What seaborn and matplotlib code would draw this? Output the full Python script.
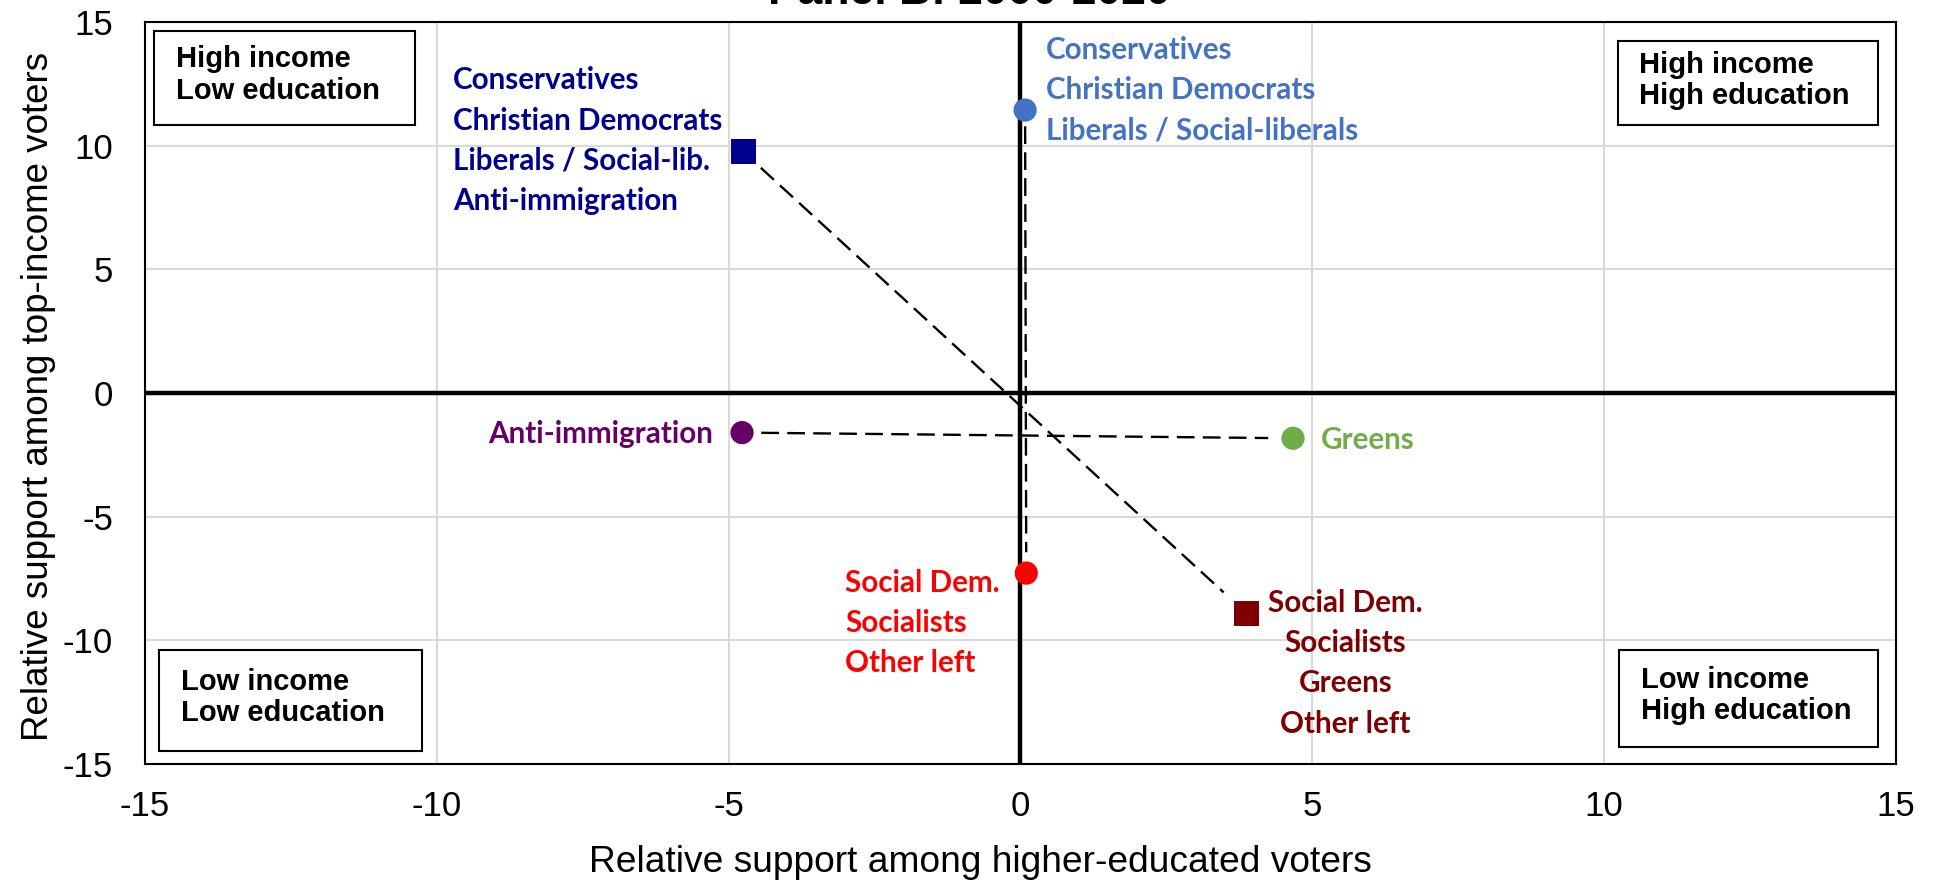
import numpy as np
import pandas as pd
import seaborn as sns
import matplotlib.pyplot as plt
from matplotlib.patches import Rectangle

# values (x: higher-educated, y: top-income)
groups = ['Right bloc', 'Conservatives', 'Anti-immigration', 'Greens', 'Social Dem.', 'Left bloc']
educ = [-4.75, 0.08, -4.77, 4.67, 0.1, 3.87]
income = [9.76, 11.44, -1.6, -1.83, -7.28, -8.9]
shapes = ['square', 'circle', 'circle', 'circle', 'circle', 'square']
colors = ['#000090', '#4472C4', '#660066', '#70AD47', '#FF0000', '#7F0000']
label_text = [
    "Conservatives\nChristian Democrats\nLiberals / Social-lib.\nAnti-immigration",
    "Conservatives\nChristian Democrats\nLiberals / Social-liberals",
    "Anti-immigration",
    "Greens",
    "Social Dem.\nSocialists\nOther left",
    "Social Dem.\nSocialists\nGreens\nOther left",
]
# pairs joined by dashed lines
links = [(0, 5), (2, 3), (1, 4)]
ticks = [-15, -10, -5, 0, 5, 10, 15]
quadrants = ["High income\nLow education", "High income\nHigh education",
             "Low income\nLow education", "Low income\nHigh education"]

# layout of the text labels (data coords)
label_x = [-9.72, 0.44, -5.26, 5.14, -3.0, 5.57]
label_y = [10.2, 12.24, -1.66, -1.9, -9.3, -10.93]
label_ha = ['left', 'left', 'right', 'left', 'left', 'center']
# quadrant boxes (axes fraction): x0, y0, x1, y1
box_pos = [(0.005, 0.861, 0.154, 0.988), (0.841, 0.861, 0.990, 0.974),
           (0.008, 0.018, 0.158, 0.154), (0.842, 0.023, 0.990, 0.154)]

sns.set_theme(style='white')
plt.rcParams['font.family'] = ['Liberation Sans', 'DejaVu Sans']
plt.rcParams['axes.unicode_minus'] = False
plt.rcParams['text.color'] = 'black'
plt.rcParams['axes.labelcolor'] = 'black'

df = pd.DataFrame({'group': groups, 'educ': educ, 'income': income, 'shape': shapes})

fig = plt.figure(figsize=(19.35, 8.84), dpi=100)
ax = fig.add_axes([0.0749, 0.1357, 0.9049, 0.8394])

ax.set_xlim(-15, 15)
ax.set_ylim(-15, 15)
ax.set_xticks(ticks)
ax.set_yticks(ticks)
ax.grid(True, color='#d9d9d9', lw=1.5)
ax.set_axisbelow(True)
ax.axhline(0, color='black', lw=3.2, zorder=1)
ax.axvline(0, color='black', lw=3.2, zorder=1)

for a, b in links:
    x0, y0, x1, y1 = educ[a], income[a], educ[b], income[b]
    t = np.array([0.035, 0.955])
    ax.plot(x0 + t * (x1 - x0), y0 + t * (y1 - y0), color='black', lw=1.7,
            dashes=(7.5, 3.5), zorder=2)

sns.scatterplot(data=df, x='educ', y='income', hue='group', style='shape',
                palette=dict(zip(groups, colors)),
                markers={'square': 's', 'circle': 'o'},
                size='shape', sizes={'square': 330, 'circle': 280},
                linewidth=0, legend=False, ax=ax, zorder=3)

for i in range(len(groups)):
    ax.text(label_x[i], label_y[i], label_text[i], color=colors[i], ha=label_ha[i],
            va='center', multialignment=label_ha[i],
            fontsize=21.3, fontweight='bold', family=['Lato', 'DejaVu Sans'],
            linespacing=1.53, zorder=4)

for (x0, y0, x1, y1), txt in zip(box_pos, quadrants):
    ax.add_patch(Rectangle((x0, y0), x1 - x0, y1 - y0, transform=ax.transAxes,
                           fc='white', ec='black', lw=1.5, zorder=4))
    ax.text(x0 + 0.0125, (y0 + y1) / 2 + 0.004, txt, transform=ax.transAxes, ha='left',
            va='center', fontsize=21, fontweight='bold', linespacing=1.15,
            color='black', zorder=5)

for s in ax.spines.values():
    s.set_color('black')
    s.set_linewidth(1.5)
ax.tick_params(axis='both', labelsize=25, length=0, colors='black')
ax.tick_params(axis='x', pad=19)
ax.tick_params(axis='y', pad=23)
ax.set_xlabel('Relative support among higher-educated voters', fontsize=26.7)
ax.set_ylabel('Relative support among top-income voters', fontsize=26.5)
ax.xaxis.set_label_coords(0.4774, -0.133)
ax.yaxis.set_label_coords(-0.061, 0.496)
ax.xaxis.label.set_verticalalignment('center')
ax.yaxis.label.set_verticalalignment('center')

fig.text(0.501, 1 - 4 / 884, 'Panel B: 2000-2020', ha='center', va='baseline',
         fontsize=32, fontweight='bold')

fig.savefig('out.png', dpi=100)
